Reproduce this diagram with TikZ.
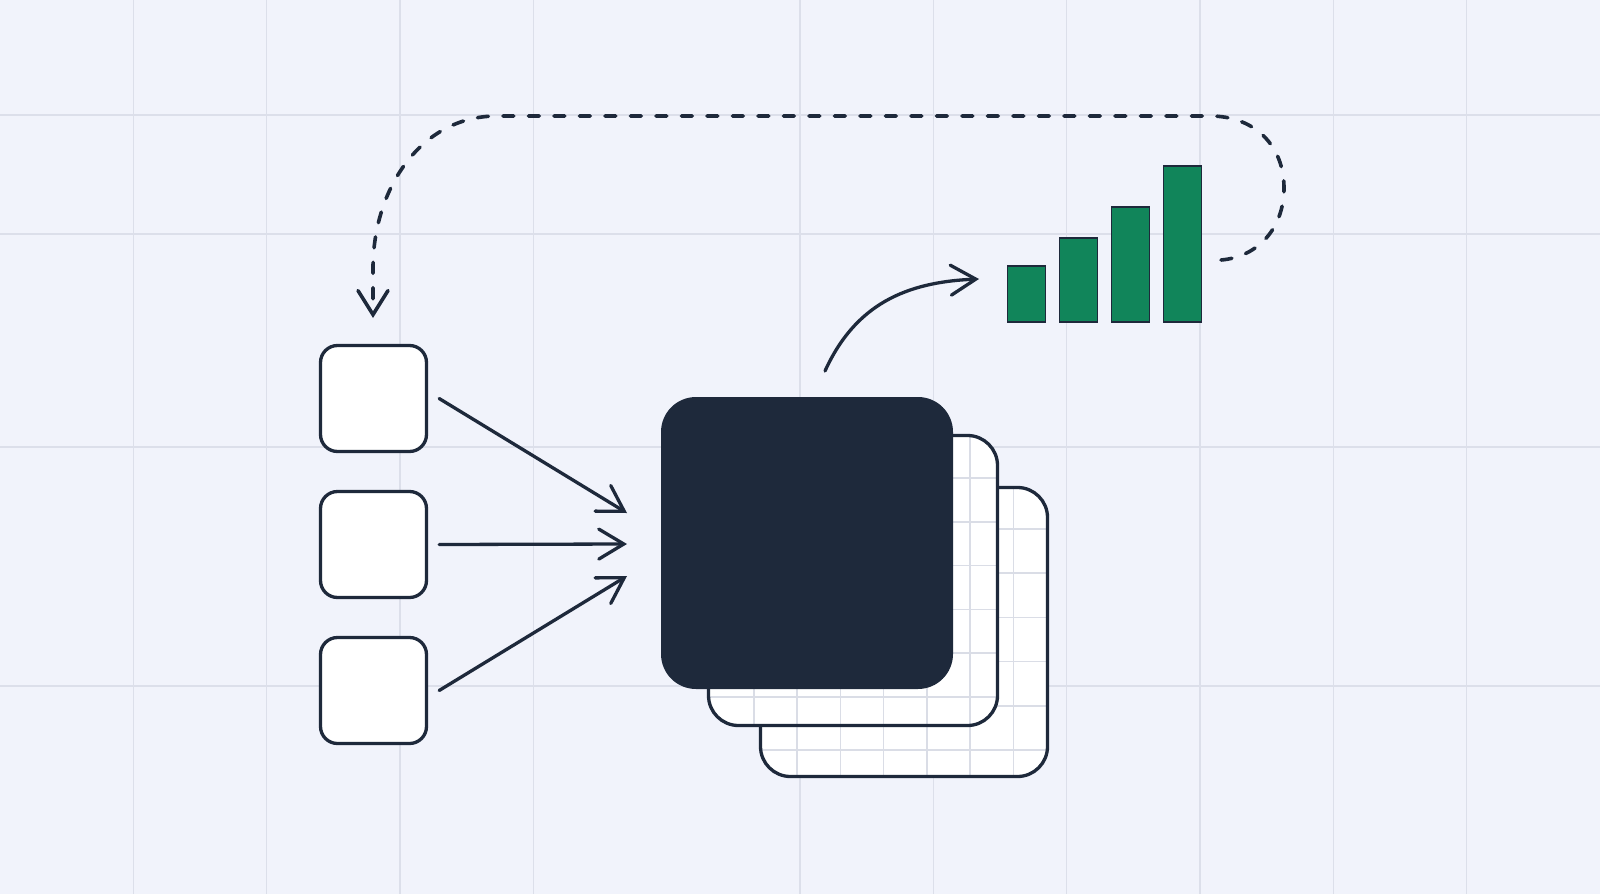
\documentclass[tikz,border=0pt]{standalone}
\usetikzlibrary{arrows.meta}
\definecolor{bg}{HTML}{F1F3FB}
\definecolor{gridc}{HTML}{DCDFEA}
\definecolor{ink}{HTML}{1E293B}
\definecolor{barc}{HTML}{11855A}
\definecolor{cardgrid}{HTML}{DADDE6}
\begin{document}
\begin{tikzpicture}[x=1pt,y=-1pt,
  smallbox/.style={draw=ink, fill=white, line width=3.3pt, rounded corners=17pt,
    minimum width=106pt, minimum height=106pt, inner sep=0pt},
  darkcard/.style={fill=ink, rounded corners=35pt, minimum width=292pt,
    minimum height=292pt, inner sep=0pt},
  cardedge/.style={draw=ink, line width=3.3pt, rounded corners=30pt},
  barbox/.style={draw=ink, fill=barc, line width=1.6pt, minimum width=38pt,
    inner sep=0pt, anchor=south},
  arr/.style={draw=ink, line width=3.3pt, line cap=round,
    -{Straight Barb[length=25pt, width=30pt, line cap=round]}},
  dasharr/.style={draw=ink, line width=3.6pt, line cap=round, dash pattern=on 11pt off 14.5pt,
    -{Straight Barb[length=24pt, width=30pt, line cap=round]}},
  gridline/.style={draw=gridc, line width=1.5pt},
  innergrid/.style={draw=cardgrid, line width=1.5pt}]
\fill[bg] (0,0) rectangle (1600,894);
\useasboundingbox (0,0) rectangle (1600,894);
% background grid
\foreach \k in {1,2,3,4,6,7,8,9,10,11} \draw[gridline] ({133.33*\k},0) -- ({133.33*\k},894);
\foreach \yy in {115,234,447,686} \draw[gridline] (0,\yy) -- (1600,\yy);

% back card 3
\fill[white, rounded corners=30pt] (760.5,487.5) rectangle (1047.5,776.5);
\begin{scope}
  \clip[rounded corners=30pt] (760.5,487.5) rectangle (1047.5,776.5);
  \foreach \xx in {797,840.3,883.6,926.9,970.2,1013.5} \draw[innergrid] (\xx,480) -- (\xx,780);
  \foreach \yy in {529,573.2,617.4,661.6,705.8,750} \draw[innergrid] (755,\yy) -- (1050,\yy);
\end{scope}
\draw[cardedge] (760.5,487.5) rectangle (1047.5,776.5);

% card 2
\fill[white, rounded corners=30pt] (708.5,435.5) rectangle (997.5,725.5);
\begin{scope}
  \clip[rounded corners=30pt] (708.5,435.5) rectangle (997.5,725.5);
  \foreach \xx in {754,797,840.3,883.6,926.9,970.2} \draw[innergrid] (\xx,430) -- (\xx,730);
  \foreach \yy in {478,521.8,565.6,609.4,653.2,697} \draw[innergrid] (700,\yy) -- (1000,\yy);
\end{scope}
\draw[cardedge] (708.5,435.5) rectangle (997.5,725.5);

% front dark card
\node[darkcard] (core) at (807,543) {};

% input boxes
\node[smallbox] (b1) at (373.5,398.5) {};
\node[smallbox] (b2) at (373.5,544.5) {};
\node[smallbox] (b3) at (373.5,690.5) {};

\coordinate (t1) at (627,513);
\coordinate (t2) at (627,544);
\coordinate (t3) at (627,576);
\draw[arr] ([xshift=11pt]b1.east) -- (t1);
\draw[arr] ([xshift=11pt]b2.east) -- (t2);
\draw[arr] ([xshift=11pt]b3.east) -- (t3);

% bar chart
\node[barbox, minimum height=56pt] (bar1) at (1026.5,323) {};
\node[barbox, minimum height=84pt] (bar2) at (1078.5,323) {};
\node[barbox, minimum height=115pt] (bar3) at (1130.5,323) {};
\node[barbox, minimum height=156pt] (bar4) at (1182.5,323) {};

% curved arrow from core to chart
\coordinate (cs) at (825,371);
\coordinate (ce) at (979,279);
\draw[arr] (cs) .. controls (855,305) and (905,282) .. (ce);

% dashed feedback loop
\coordinate (ds) at (1221,260);
\coordinate (de) at (373,318);
\draw[dasharr] (ds) .. controls (1258,257) and (1284,228) .. (1284,188)
  .. controls (1284,146) and (1255,116) .. (1210,116)
  -- (497,116) .. controls (420,116) and (373,190) .. (373,268) -- (de);
\end{tikzpicture}
\end{document}
